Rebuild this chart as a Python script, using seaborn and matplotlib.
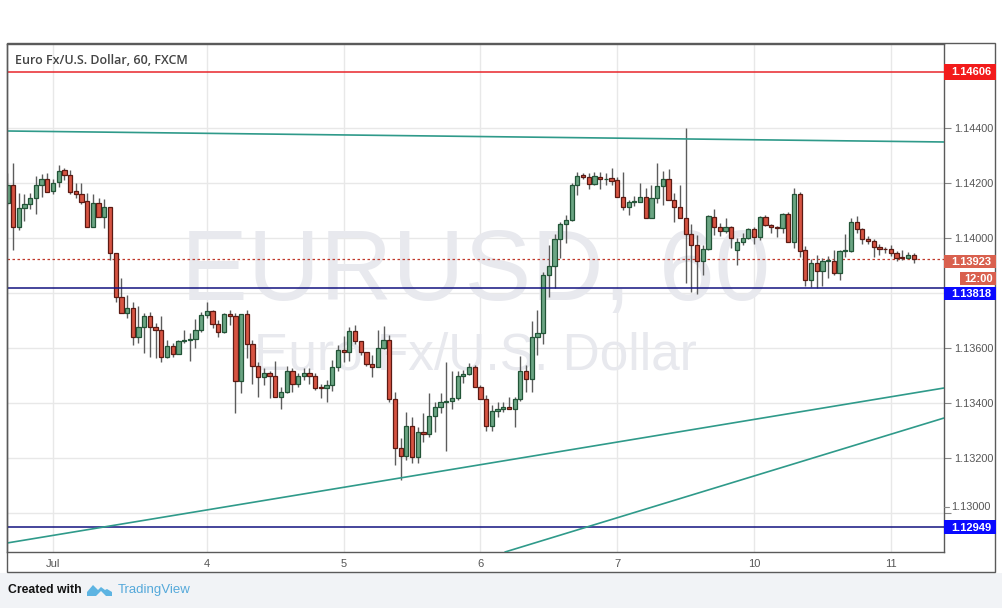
import numpy as np
import pandas as pd
import matplotlib
matplotlib.use("Agg")
import matplotlib.pyplot as plt
import seaborn as sns
from matplotlib.patches import Rectangle, Polygon
from matplotlib.transforms import IdentityTransform

# ---------------- data ----------------
day_labels = ["Jul", "4", "5", "6", "7", "10", "11"]
day_bars = [8, 35, 59, 83, 107, 131, 155]

opens = [1.14127, 1.14194, 1.14040, 1.14109, 1.14123, 1.14145, 1.14194, 1.14214, 1.14173, 1.14203,
         1.14248, 1.14230, 1.14172, 1.14160, 1.14136, 1.14040, 1.14127, 1.14076, 1.14113, 1.13945,
         1.13785, 1.13730, 1.13745, 1.13642, 1.13676, 1.13717, 1.13676, 1.13667, 1.13570, 1.13609,
         1.13581, 1.13625, 1.13629, 1.13632, 1.13666, 1.13721, 1.13735, 1.13687, 1.13658, 1.13723,
         1.13717, 1.13481, 1.13723, 1.13614, 1.13535, 1.13494, 1.13512, 1.13500, 1.13424, 1.13442,
         1.13517, 1.13472, 1.13500, 1.13509, 1.13499, 1.13457, 1.13456, 1.13465, 1.13531, 1.13594,
         1.13586, 1.13664, 1.13627, 1.13586, 1.13542, 1.13531, 1.13600, 1.13631, 1.13415, 1.13237,
         1.13210, 1.13319, 1.13204, 1.13295, 1.13288, 1.13354, 1.13385, 1.13404, 1.13409, 1.13418,
         1.13500, 1.13506, 1.13531, 1.13461, 1.13416, 1.13319, 1.13373, 1.13378, 1.13388, 1.13378,
         1.13414, 1.13517, 1.13487, 1.13640, 1.13654, 1.13866, 1.13900, 1.13999, 1.14052, 1.14066,
         1.14194, 1.14230, 1.14222, 1.14196, 1.14224, 1.14214, 1.14218, 1.14212, 1.14151, 1.14115,
         1.14133, 1.14133, 1.14149, 1.14075, 1.14145, 1.14191, 1.14214, 1.14141, 1.14112, 1.14075,
         1.14014, 1.13975, 1.13917, 1.13960, 1.14079, 1.14040, 1.14028, 1.14042, 1.13957, 1.13985,
         1.14000, 1.14032, 1.14003, 1.14079, 1.14048, 1.14042, 1.14039, 1.14087, 1.13985, 1.14161,
         1.13957, 1.13850, 1.13909, 1.13882, 1.13918, 1.13918, 1.13875, 1.13955, 1.13955, 1.14058,
         1.14032, 1.13999, 1.13991, 1.13969, 1.13962, 1.13960, 1.13945, 1.13930, 1.13929, 1.13941]

highs = [1.14236, 1.14275, 1.14163, 1.14160, 1.14166, 1.14226, 1.14234, 1.14239, 1.14214, 1.14266,
         1.14254, 1.14248, 1.14202, 1.14200, 1.14166, 1.14160, 1.14148, 1.14142, 1.14113, 1.13945,
         1.13857, 1.13794, 1.13770, 1.13754, 1.13727, 1.13733, 1.13693, 1.13717, 1.13630, 1.13618,
         1.13630, 1.13666, 1.13654, 1.13705, 1.13733, 1.13769, 1.13739, 1.13703, 1.13730, 1.13739,
         1.13727, 1.13723, 1.13741, 1.13630, 1.13551, 1.13527, 1.13518, 1.13553, 1.13460, 1.13537,
         1.13527, 1.13511, 1.13530, 1.13527, 1.13509, 1.13472, 1.13484, 1.13558, 1.13612, 1.13645,
         1.13679, 1.13685, 1.13627, 1.13588, 1.13576, 1.13667, 1.13681, 1.13649, 1.13440, 1.13273,
         1.13368, 1.13349, 1.13315, 1.13364, 1.13437, 1.13404, 1.13437, 1.13552, 1.13519, 1.13519,
         1.13521, 1.13548, 1.13540, 1.13467, 1.13431, 1.13394, 1.13406, 1.13406, 1.13422, 1.13424,
         1.13572, 1.13539, 1.13699, 1.13739, 1.13879, 1.13976, 1.14014, 1.14060, 1.14085, 1.14200,
         1.14242, 1.14239, 1.14236, 1.14242, 1.14242, 1.14236, 1.14254, 1.14222, 1.14242, 1.14139,
         1.14154, 1.14202, 1.14184, 1.14194, 1.14272, 1.14246, 1.14251, 1.14163, 1.14194, 1.14400,
         1.14052, 1.14012, 1.13975, 1.14085, 1.14105, 1.14054, 1.14075, 1.14045, 1.14000, 1.14020,
         1.14036, 1.14040, 1.14081, 1.14085, 1.14052, 1.14046, 1.14091, 1.14097, 1.14182, 1.14169,
         1.13972, 1.13923, 1.13939, 1.13930, 1.13935, 1.13957, 1.13957, 1.14015, 1.14075, 1.14081,
         1.14036, 1.14008, 1.13999, 1.13981, 1.13967, 1.13975, 1.13955, 1.13957, 1.13950, 1.13945]

lows = [1.14121, 1.13957, 1.14030, 1.14064, 1.14105, 1.14087, 1.14151, 1.14169, 1.14160, 1.14188,
        1.14212, 1.14161, 1.14145, 1.14123, 1.14040, 1.14040, 1.14076, 1.14036, 1.13921, 1.13770,
        1.13730, 1.13709, 1.13612, 1.13620, 1.13582, 1.13570, 1.13563, 1.13551, 1.13563, 1.13567,
        1.13579, 1.13618, 1.13553, 1.13600, 1.13660, 1.13709, 1.13672, 1.13640, 1.13654, 1.13684,
        1.13363, 1.13436, 1.13563, 1.13472, 1.13424, 1.13466, 1.13418, 1.13424, 1.13381, 1.13436,
        1.13442, 1.13460, 1.13484, 1.13472, 1.13448, 1.13418, 1.13406, 1.13443, 1.13518, 1.13552,
        1.13555, 1.13615, 1.13574, 1.13536, 1.13497, 1.13531, 1.13597, 1.13406, 1.13174, 1.13122,
        1.13194, 1.13182, 1.13182, 1.13258, 1.13277, 1.13297, 1.13364, 1.13228, 1.13380, 1.13412,
        1.13473, 1.13503, 1.13461, 1.13415, 1.13301, 1.13299, 1.13351, 1.13370, 1.13378, 1.13313,
        1.13410, 1.13442, 1.13442, 1.13576, 1.13614, 1.13788, 1.13818, 1.13930, 1.13984, 1.14064,
        1.14157, 1.14214, 1.14178, 1.14194, 1.14178, 1.14194, 1.14194, 1.14151, 1.14103, 1.14085,
        1.14117, 1.14133, 1.14075, 1.14072, 1.14129, 1.14121, 1.14139, 1.14060, 1.14075, 1.13836,
        1.13806, 1.13797, 1.13866, 1.13957, 1.14012, 1.14008, 1.14018, 1.13966, 1.13903, 1.13975,
        1.13996, 1.13979, 1.13994, 1.14045, 1.14018, 1.14006, 1.14018, 1.13985, 1.13966, 1.13933,
        1.13826, 1.13824, 1.13818, 1.13826, 1.13854, 1.13866, 1.13850, 1.13933, 1.13951, 1.14018,
        1.13981, 1.13979, 1.13933, 1.13938, 1.13945, 1.13935, 1.13918, 1.13921, 1.13927, 1.13911]

closes = [1.14194, 1.14040, 1.14109, 1.14123, 1.14145, 1.14194, 1.14216, 1.14169, 1.14202, 1.14246,
          1.14230, 1.14169, 1.14160, 1.14133, 1.14040, 1.14127, 1.14076, 1.14113, 1.13945, 1.13785,
          1.13730, 1.13745, 1.13642, 1.13676, 1.13717, 1.13676, 1.13667, 1.13570, 1.13610, 1.13581,
          1.13626, 1.13629, 1.13632, 1.13666, 1.13721, 1.13735, 1.13687, 1.13658, 1.13723, 1.13717,
          1.13481, 1.13723, 1.13614, 1.13535, 1.13494, 1.13512, 1.13500, 1.13424, 1.13442, 1.13517,
          1.13472, 1.13500, 1.13509, 1.13499, 1.13457, 1.13456, 1.13466, 1.13531, 1.13594, 1.13586,
          1.13664, 1.13627, 1.13586, 1.13542, 1.13531, 1.13600, 1.13631, 1.13415, 1.13237, 1.13210,
          1.13319, 1.13204, 1.13295, 1.13288, 1.13354, 1.13385, 1.13404, 1.13409, 1.13418, 1.13500,
          1.13506, 1.13531, 1.13461, 1.13416, 1.13319, 1.13373, 1.13378, 1.13388, 1.13378, 1.13414,
          1.13517, 1.13487, 1.13640, 1.13654, 1.13866, 1.13900, 1.13999, 1.14052, 1.14066, 1.14194,
          1.14228, 1.14224, 1.14196, 1.14226, 1.14214, 1.14217, 1.14209, 1.14151, 1.14115, 1.14133,
          1.14136, 1.14149, 1.14075, 1.14145, 1.14191, 1.14214, 1.14139, 1.14112, 1.14075, 1.14014,
          1.13975, 1.13917, 1.13960, 1.14081, 1.14040, 1.14028, 1.14042, 1.14000, 1.13985, 1.14000,
          1.14032, 1.14003, 1.14079, 1.14048, 1.14042, 1.14039, 1.14087, 1.13985, 1.14161, 1.13955,
          1.13850, 1.13909, 1.13882, 1.13918, 1.13921, 1.13875, 1.13955, 1.13957, 1.14058, 1.14032,
          1.13999, 1.13991, 1.13969, 1.13962, 1.13960, 1.13945, 1.13930, 1.13929, 1.13941, 1.13923]

level_top = 1.14606
level_mid = 1.13818
level_low = 1.12949
last_price = 1.13923
countdown = "12:00"

trend_upper_x = [-0.07, 164.32]
trend_upper_y = [1.143902, 1.143502]
trend_lower_x = [-0.07, 164.32]
trend_lower_y = [1.128920, 1.134556]
trend_steep_x = [87.3, 164.32]
trend_steep_y = [1.128593, 1.133465]

price_ticks = [1.130, 1.132, 1.134, 1.136, 1.138, 1.140, 1.142, 1.144]
hidden_ticks = [1.130, 1.138]   # covered by the price-label boxes

title = "Euro Fx/U.S. Dollar, 60, FXCM"
wm_big = "EURUSD, 60"
wm_small = "Euro Fx/U.S. Dollar"

# ---------------- style ----------------
sns.set_theme(style="white")
plt.rcParams["font.family"] = ["Liberation Sans", "DejaVu Sans"]

W, H = 1002, 608
fig = plt.figure(figsize=(W / 100, H / 100), dpi=100, facecolor="white")
ID = IdentityTransform()

# footer background
fig.add_artist(Rectangle((0, 0), W, H - 573, transform=ID, facecolor="#f1f3f6",
                         edgecolor="none", zorder=0))

ax = fig.add_axes([7 / W, (H - 552) / H, 937 / W, 508 / H])
ax.set_facecolor("white")

df = pd.DataFrame({"bar": np.arange(len(opens)), "open": opens, "high": highs,
                   "low": lows, "close": closes})
up = df["close"] >= df["open"]

UP_FILL, DN_FILL = "#6ba583", "#d75442"
UP_EDGE, DN_EDGE = "#225437", "#5b1a13"
WICK = "#5c5c5c"
TEAL = "#2f9a8a"

# wicks
ax.vlines(df["bar"], df["low"], df["high"], color=WICK, linewidth=1, zorder=3)
# bodies
body_bottom = np.minimum(df["open"], df["close"])
body_h = np.maximum(np.abs(df["close"] - df["open"]), 0.000015)
ax.bar(df["bar"], body_h, bottom=body_bottom, width=0.74,
       color=np.where(up, UP_FILL, DN_FILL), edgecolor=np.where(up, UP_EDGE, DN_EDGE),
       linewidth=0.9, zorder=4)

# horizontal levels
ax.axhline(level_top, color="#e8262b", linewidth=1.1, zorder=5)
ax.axhline(level_mid, color="#131380", linewidth=1.1, zorder=5)
ax.axhline(level_low, color="#131380", linewidth=1.1, zorder=5)
ax.axhline(last_price, color="#c0392b", linewidth=0.9, linestyle=(0, (2, 2)), zorder=2)

# trend lines
for xs, ys in [(trend_upper_x, trend_upper_y), (trend_lower_x, trend_lower_y),
               (trend_steep_x, trend_steep_y)]:
    sns.lineplot(x=xs, y=ys, ax=ax, color=TEAL, linewidth=1.2, zorder=5)

ax.set_xlim(-0.07, 164.32)
ax.set_ylim(1.128593, 1.147065)

# grid / ticks
ax.set_xticks(day_bars)
ax.set_xticklabels(day_labels, color="#555555", fontsize=8,
                   family=["Liberation Sans Narrow", "Liberation Sans"])
ax.set_yticks(price_ticks)
ax.yaxis.tick_right()
ax.set_yticklabels(["" if t in hidden_ticks else f"{t:.5f}" for t in price_ticks],
                   color="#555555", fontsize=7.8)
ax.tick_params(axis="x", length=0, pad=5)
ax.tick_params(axis="y", length=5, width=0.8, color="#888888", pad=2)
ax.grid(True, color="#e8e8e8", linewidth=1, zorder=0)
ax.set_axisbelow(True)
for s in ["left", "right", "bottom", "top"]:
    ax.spines[s].set_color("#5a5a5a")
    ax.spines[s].set_linewidth(1)

# watermark
ax.text(0.5, (552 - 300) / 508, wm_big, transform=ax.transAxes, ha="center", va="baseline",
        fontsize=72, color="#e8e9ee", zorder=1)
ax.text(0.5, (552 - 370) / 508, wm_small, transform=ax.transAxes, ha="center", va="baseline",
        fontsize=37, color="#e8e9ee", zorder=1)

# title
ax.text((15 - 7) / 937, (552 - 60) / 508, title, transform=ax.transAxes, ha="left", va="center",
        fontsize=9, color="#444444", fontweight="semibold", family=["Open Sans", "DejaVu Sans"],
        zorder=6)

# outer frame
fig.add_artist(Rectangle((7, H - 572), 988, 529, transform=ID, facecolor="none",
                         edgecolor="#5a5a5a", linewidth=1, zorder=10))

fig.canvas.draw()


def yimg(p):
    return H - ax.transData.transform((0, p))[1]


def box(top_img, height, x0, text, fc):
    fig.add_artist(Rectangle((x0, H - top_img - height), 996 - x0, height, transform=ID,
                             facecolor=fc, edgecolor="none", zorder=11))
    fig.text(x0 + (7 if x0 == 944 else 4), H - top_img - height / 2 - 0.5, text,
             transform=ID, ha="left", va="center", color="white", fontsize=8,
             fontweight="bold", zorder=12)


bh = 14
box(yimg(level_top) - 8, 16, 944, f"{level_top:.5f}", "#f21b1b")
lp_top = yimg(last_price) - 4.5
box(lp_top, 13, 944, f"{last_price:.5f}", "#d9604e")
box(lp_top + 17, 13, 960, countdown, "#d9604e")
box(lp_top + 32, 13, 944, f"{level_mid:.5f}", "#0a0aff")
box(yimg(level_low) - bh / 2, bh, 944, f"{level_low:.5f}", "#0a0aff")

# pushed-up 1.13000 label
y130 = yimg(1.130) - 6
fig.add_artist(plt.Line2D([944, 949], [H - y130, H - y130], transform=ID, color="#888888",
                          linewidth=0.8, zorder=11))
fig.text(951, H - y130, f"{1.130:.5f}", transform=ID, ha="left", va="center",
         color="#555555", fontsize=7.8, zorder=12)

# footer
fig.text(8, H - 590, "Created with", transform=ID, ha="left", va="center", fontsize=8.8,
         fontweight="bold", color="#131313", family=["Liberation Sans Narrow", "Liberation Sans"])
logo = [(87, 596), (87, 592), (93, 585), (98, 590), (101, 587), (105, 590), (107, 589),
        (112, 592), (112, 596), (106, 596), (101, 591), (96, 596)]
fig.add_artist(Polygon([(x, H - y) for x, y in logo], closed=True, transform=ID,
                       facecolor="#5db4e2", edgecolor="none", zorder=11))
fig.text(118, H - 590, "TradingView", transform=ID, ha="left", va="center", fontsize=9.5,
         color="#55a9da", family=["Liberation Sans Narrow", "Liberation Sans"])

fig.savefig("out.png", dpi=100, facecolor=fig.get_facecolor())
